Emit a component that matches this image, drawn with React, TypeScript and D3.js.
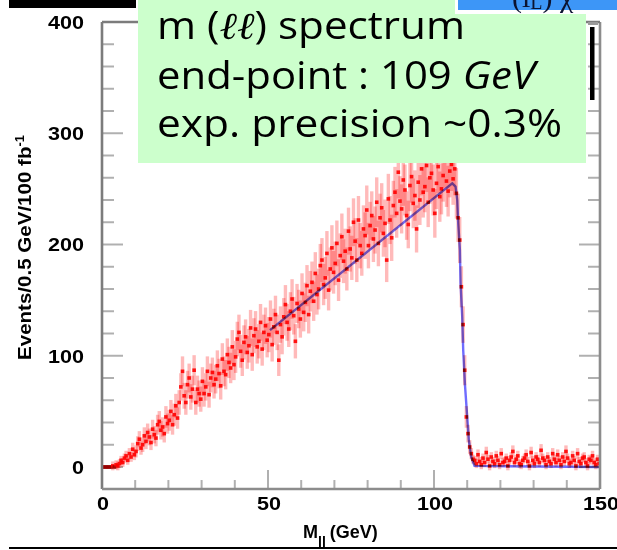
import React from "react";
import * as d3 from "d3";

// Events per 0.5 GeV bin, from 0 to 150 GeV (300 bins)
const counts: number[] = [
  0, 0, 0, 0, 0, 0, 1, 0, 2, 1, 3, 6, 4, 8, 10, 6, 12, 9, 16, 11,
  14, 21, 25, 17, 20, 28, 23, 31, 27, 22, 34, 29, 26, 38, 41, 33, 36, 30, 45, 39,
  42, 50, 38, 47, 55, 44, 58, 72, 86, 64, 58, 74, 80, 63, 70, 87, 58, 70, 66, 61,
  77, 66, 72, 86, 65, 80, 85, 74, 79, 91, 84, 73, 97, 86, 83, 101, 94, 89, 108, 92,
  99, 115, 121, 104, 96, 112, 117, 103, 109, 125, 101, 118, 124, 108, 113, 130, 106, 121, 127, 114,
  119, 133, 110, 126, 137, 121, 96, 128, 117, 135, 146, 130, 124, 140, 151, 136, 113, 147, 142, 133,
  156, 139, 148, 163, 137, 158, 166, 149, 174, 155, 160, 181, 186, 164, 170, 192, 159, 178, 197, 175,
  183, 201, 168, 190, 207, 185, 194, 178, 212, 196, 188, 220, 203, 186, 222, 199, 192, 214, 208, 231,
  199, 217, 226, 205, 213, 238, 201, 224, 233, 210, 219, 186, 241, 222, 206, 235, 247, 228, 265, 239,
  232, 258, 249, 226, 218, 253, 261, 237, 244, 214, 256, 240, 268, 247, 252, 271, 238, 260, 264, 249,
  228, 255, 270, 243, 250, 262, 275, 257, 248, 266, 272, 259, 268, 246, 224, 204, 162, 128, 87, 45,
  30, 18, 12, 7, 6, 3, 11, 5, 2, 8, 4, 13, 7, 1, 9, 5, 3, 10, 6, 2,
  12, 4, 5, 8, 1, 6, 9, 14, 4, 7, 10, 3, 2, 6, 8, 11, 5, 1, 13, 6,
  3, 9, 7, 4, 15, 8, 6, 2, 9, 5, 3, 12, 7, 4, 11, 6, 2, 9, 5, 14,
  8, 3, 4, 10, 6, 1, 12, 5, 3, 8, 9, 4, 1, 7, 6, 10, 4, 2, 7, 3,
];
const binWidth = 0.5;

// Fitted end-point function (mass in GeV, events)
const fitMass = [50.6, 105.5, 106.5, 107.0, 107.3, 107.8, 108.0, 108.5, 108.8, 109.3, 110.0, 110.5, 111.2, 112.2, 150];
const fitEvents = [123, 255, 252, 240, 219, 195, 165, 135, 105, 75, 45, 24, 9, 1, 0];

const xMajorTicks = [0, 50, 100, 150];
const xMinorTicks = [10, 20, 30, 40, 60, 70, 80, 90, 110, 120, 130, 140];
const yMajorTicks = [0, 100, 200, 300, 400];
const yMinorTicks = [20, 40, 60, 80, 120, 140, 160, 180, 220, 240, 260, 280, 320, 340, 360, 380];

const infoLines = ["m (", "ℓℓ", ") spectrum"];
const infoLine2 = ["end-point : 109 ", "GeV"];
const infoLine3 = "exp. precision ~0.3%";

export default function App() {
  const W = 617;
  const H = 550;
  const x = d3.scaleLinear().domain([0, 150]).range([102, 600]);
  const y = d3.scaleLinear().domain([0, 400]).range([467, 22]);
  const yBot = y(-19.8);
  const yTop = y(400);
  const xL = x(0);
  const xR = x(150);

  const pts = counts.map((c, i) => {
    const m = (i + 0.5) * binWidth;
    const err = c > 0 ? Math.max(1.45 * Math.sqrt(c), 4) : 0;
    return { m, c, err };
  });

  const fitLine = d3
    .line<number>()
    .x((_, i) => x(fitMass[i]))
    .y((d) => y(d))(fitEvents);

  const tickCol = "#b0b0b0";
  const frameCol = "#7c7c7c";
  const labelFont = "'Liberation Sans', Arial, Helvetica, sans-serif";
  const infoFont = "'Comic Sans MS', 'Open Sans', 'DejaVu Sans', sans-serif";

  return (
    <svg
      width={W}
      height={H}
      viewBox={`0 0 ${W} ${H}`}
      style={{ position: "absolute", left: 0, top: 0, background: "#fff" }}
    >
      <rect x={0} y={0} width={W} height={H} fill="#fff" />

      {/* ticks */}
      {yMinorTicks.map((v) => (
        <g key={"ym" + v}>
          <line x1={xL} x2={xL + 12} y1={y(v)} y2={y(v)} stroke={tickCol} strokeWidth={2} />
          <line x1={xR} x2={xR - 12} y1={y(v)} y2={y(v)} stroke={tickCol} strokeWidth={2} />
        </g>
      ))}
      {yMajorTicks.map((v) => (
        <g key={"yM" + v}>
          <line x1={xL} x2={xL + 21} y1={y(v)} y2={y(v)} stroke={tickCol} strokeWidth={2} />
          <line x1={xR} x2={xR - 21} y1={y(v)} y2={y(v)} stroke={tickCol} strokeWidth={2} />
        </g>
      ))}
      {xMinorTicks.map((v) => (
        <line key={"xm" + v} x1={x(v)} x2={x(v)} y1={yBot} y2={yBot - 9} stroke={tickCol} strokeWidth={2} />
      ))}
      {xMajorTicks.map((v) => (
        <line key={"xM" + v} x1={x(v)} x2={x(v)} y1={yBot} y2={yBot - 19} stroke={tickCol} strokeWidth={2} />
      ))}

      {/* error bars */}
      <g fill="#ff0000" fillOpacity={0.27}>
        {pts.map((p, i) =>
          p.err > 0 ? (
            <rect key={"e" + i} x={x(p.m) - 1.7} width={3.4} y={y(p.c + p.err)} height={y(p.c - p.err) - y(p.c + p.err)} />
          ) : null
        )}
      </g>
      {/* markers */}
      <g>
        {pts.map((p, i) => (
          <rect
            key={"p" + i}
            x={x(p.m) - 1.8}
            y={y(p.c) - 1.8}
            width={3.6}
            height={3.6}
            fill={p.c === 0 ? "#990000" : "#ff0000"}
            fillOpacity={0.9}
          />
        ))}
      </g>
      {/* fit */}
      <path d={fitLine || ""} fill="none" stroke="#6f6cff" strokeWidth={2.4} style={{ mixBlendMode: "multiply" }} />

      {/* frame */}
      <line x1={xL} x2={xL} y1={yTop} y2={yBot} stroke={frameCol} strokeWidth={2.6} />
      <line x1={xR} x2={xR} y1={yTop} y2={yBot} stroke={"#8c8c8c"} strokeWidth={2.6} />
      <line x1={xL} x2={xR} y1={yBot} y2={yBot} stroke={"#8c8c8c"} strokeWidth={2.6} />
      <line x1={xL} x2={xR} y1={yTop} y2={yTop} stroke={frameCol} strokeWidth={2.6} />

      {/* y tick labels */}
      {yMajorTicks.map((v) => {
        const s = String(v);
        return (
          <text
            key={"yl" + v}
            x={84}
            y={y(v)}
            dy="0.36em"
            textAnchor="end"
            fontFamily={labelFont}
            fontWeight="bold"
            fontSize={19}
            textLength={12 * s.length}
            lengthAdjust="spacingAndGlyphs"
            fill="#000"
          >
            {s}
          </text>
        );
      })}
      {/* x tick labels */}
      {xMajorTicks.map((v) => {
        const s = String(v);
        return (
          <text
            key={"xl" + v}
            x={x(v) + 1}
            y={503}
            dy="0.36em"
            textAnchor="middle"
            fontFamily={labelFont}
            fontWeight="bold"
            fontSize={19}
            textLength={12 * s.length}
            lengthAdjust="spacingAndGlyphs"
            fill="#000"
          >
            {s}
          </text>
        );
      })}

      {/* axis titles */}
      <text
        transform="translate(31,247.5) rotate(-90)"
        textAnchor="middle"
        fontFamily={labelFont}
        fontWeight="bold"
        fontSize={19}
        textLength={225}
        lengthAdjust="spacingAndGlyphs"
        fill="#000"
      >
        Events/0.5 GeV/100 fb<tspan fontSize={12} dy={-7}>-1</tspan>
      </text>
      <text
        x={303}
        y={538}
        fontFamily={labelFont}
        fontWeight="bold"
        fontSize={18}
        fill="#000"
      >
        M<tspan fontSize={14} dy={9}>ll</tspan>
        <tspan dy={-9} dx={4}>(GeV)</tspan>
      </text>

      {/* overlays from the slide */}
      <rect x={9} y={0} width={127} height={8} fill="#000" />
      <rect x={138} y={0} width={448} height={163} fill="#ccffcc" />
      <rect x={455} y={0} width={162} height={14} fill="#fff" />
      <rect x={458} y={0} width={159} height={10} fill="#3d96f7" />
      <text x={512} y={7} fontFamily="'Liberation Serif', 'Times New Roman', serif" fontSize={30} fill="#0b1330">
        (l̃<tspan fontSize={20} dy={2}>L</tspan>
        <tspan dy={-2}>)  χ</tspan>
      </text>
      <rect x={590} y={27} width={4.5} height={73} fill="#000" />
      <rect x={588} y={22} width={10} height={3} fill="#9a9a9a" />

      {/* info text */}
      <text x={157} y={39} fontFamily={infoFont} fontSize={38} fill="#000" textLength={308} lengthAdjust="spacingAndGlyphs">
        {infoLines[0]}
        <tspan fontFamily="'DejaVu Serif', serif" fontStyle="italic" fontWeight={300}>
          {infoLines[1]}
        </tspan>
        {infoLines[2]}
      </text>
      <text x={157} y={89} fontFamily={infoFont} fontSize={38} fill="#000" textLength={378} lengthAdjust="spacingAndGlyphs">
        {infoLine2[0]}
        <tspan fontStyle="italic">{infoLine2[1]}</tspan>
      </text>
      <text x={157} y={137} fontFamily={infoFont} fontSize={38} fill="#000" textLength={405} lengthAdjust="spacingAndGlyphs">
        {infoLine3}
      </text>

      {/* bottom rule */}
      <line x1={9} x2={617} y1={548} y2={548} stroke="#000" strokeWidth={2} />
    </svg>
  );
}
